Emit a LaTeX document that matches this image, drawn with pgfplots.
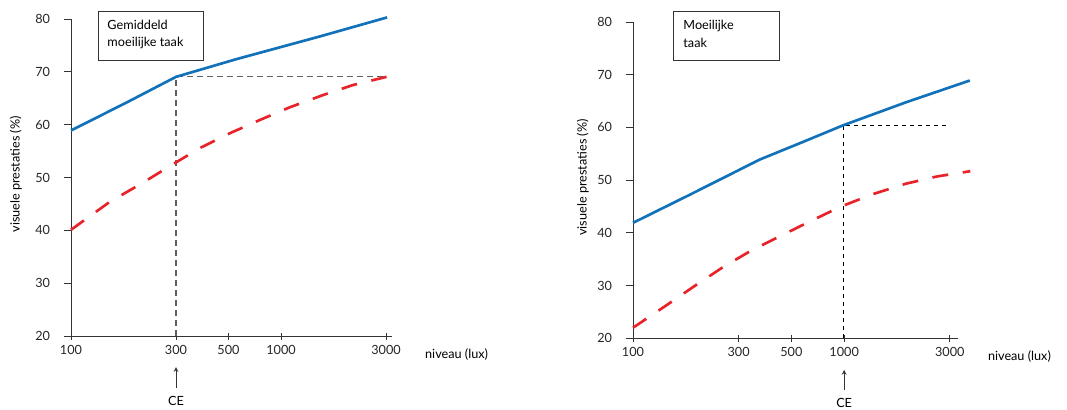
\documentclass[border=0pt]{standalone}
\usepackage{pgfplots}
\pgfplotsset{compat=1.18}
\usepackage{fontspec}
\setmainfont{Lato}
\definecolor{cblue}{HTML}{1172BA}
\definecolor{cred}{HTML}{E8232A}
\definecolor{axgray}{HTML}{333333}
\definecolor{refgray}{HTML}{606060}
% x positions: 100 lux = 0, 300 = 2, 500 = 3, 1000 = 4, 3000 = 6 (scale of the original)
\pgfplotstableread{
x y
0    58.9
1.06 64.2
2.0  69.05
3.15 72.4
4.74 76.7
6.02 80.3
}\leftblue
\pgfplotstableread{
x y
0    40.1
0.74 45.4
1.35 48.9
1.89 52.2
2.46 55.6
3.03 58.4
3.6  60.9
4.17 63.3
4.8  65.6
5.37 67.5
6.01 69.05
}\leftred
\pgfplotstableread{
x y
0    41.9
1.07 47.2
2.4  53.9
3.22 57.25
3.98 60.4
5.18 64.8
6.38 68.9
}\rightblue
\pgfplotstableread{
x y
0    22.0
0.61 26.1
1.15 29.8
1.72 33.6
2.25 36.7
2.79 39.4
3.36 42.2
3.93 44.95
4.53 47.3
5.16 49.3
5.76 50.7
6.39 51.7
}\rightred
\pgfplotsset{
  lumen/.style={
    scale only axis,
    clip=false,
    axis x line=bottom, axis y line=left,
    axis line style={-, axgray, line width=0.6pt},
    xmin=0, ymin=20, ymax=80,
    xtick={0,2,3,4,6}, xticklabels={100,300,500,1000,3000},
    ytick={20,30,...,80},
    tick align=outside,
    major tick length=5.25pt,
    tick style={axgray, line width=0.6pt},
    x tick style={yshift=2.6pt},
    /pgf/number format/assume math mode=true,
    tick label style={font=\fontsize{9.5}{11}\selectfont, text=black!85},
    xticklabel style={yshift=2pt},
    yticklabel style={xshift=-7pt},
  },
  bluecurve/.style={cblue, line width=2pt, no markers},
  redcurve/.style={cred, line width=2pt, no markers, dash pattern=on 12pt off 11pt},
}
\begin{document}
\begin{tikzpicture}
\useasboundingbox (0,0) rectangle (800.25pt,307.5pt);
% ---------- left chart ----------
\begin{axis}[lumen, at={(53.25pt,55.5pt)}, anchor=south west,
  width=241pt, height=237.75pt, xmax=6.12]
  \addplot[refgray, line width=0.9pt, dash pattern=on 4.5pt off 3pt] coordinates {(2,20) (2,69.05) (6,69.05)};
  \addplot[redcurve] table {\leftred};
  \addplot[bluecurve] table {\leftblue};
  \draw[axgray, line width=0.6pt] (axis cs:0.53,81.5) rectangle (axis cs:2.53,72.2);
  \node[anchor=base west, font=\fontsize{9.5}{11}\selectfont, inner sep=0pt] at (axis cs:0.69,78.05) {Gemiddeld};
  \node[anchor=base west, font=\fontsize{9.5}{11}\selectfont, inner sep=0pt] at (axis cs:0.69,74.75) {moeilijke taak};
  \node[rotate=90, anchor=center, font=\fontsize{9.5}{11}\selectfont] at (axis cs:-1.05,50.6) {visuele prestaties (\%)};
  \node[anchor=base west, font=\fontsize{9.5}{11}\selectfont, inner sep=0pt] at (axis cs:6.74,15.83) {niveau (lux)};
  \draw[-stealth, axgray, line width=0.6pt] (axis cs:2,10.15) -- (axis cs:2,14.1);
  \node[anchor=base, font=\fontsize{9.5}{11}\selectfont, inner sep=0pt] at (axis cs:2,6.93) {CE};
\end{axis}
% ---------- right chart ----------
\begin{axis}[lumen, at={(474.75pt,53.8pt)}, anchor=south west,
  width=243.5pt, height=237.2pt, xmax=6.15]
  \addplot[black, line width=0.6pt, dash pattern=on 3pt off 3pt] coordinates {(3.98,20) (3.98,60.4) (5.94,60.4)};
  \addplot[redcurve] table {\rightred};
  \addplot[bluecurve] table {\rightblue};
  \draw[axgray, line width=0.6pt] (axis cs:0.76,82.1) rectangle (axis cs:2.77,72.8);
  \node[anchor=base west, font=\fontsize{9.5}{11}\selectfont, inner sep=0pt] at (axis cs:0.95,78.5) {Moeilijke};
  \node[anchor=base west, font=\fontsize{9.5}{11}\selectfont, inner sep=0pt] at (axis cs:0.95,75.1) {taak};
  \node[rotate=90, anchor=center, font=\fontsize{9.5}{11}\selectfont] at (axis cs:-0.95,50.5) {visuele prestaties (\%)};
  \node[anchor=base west, font=\fontsize{9.5}{11}\selectfont, inner sep=0pt] at (axis cs:6.72,15.83) {niveau (lux)};
  \draw[-stealth, axgray, line width=0.6pt] (axis cs:4,10.2) -- (axis cs:4,14.0);
  \node[anchor=base, font=\fontsize{9.5}{11}\selectfont, inner sep=0pt] at (axis cs:4,6.8) {CE};
\end{axis}
\end{tikzpicture}
\end{document}
